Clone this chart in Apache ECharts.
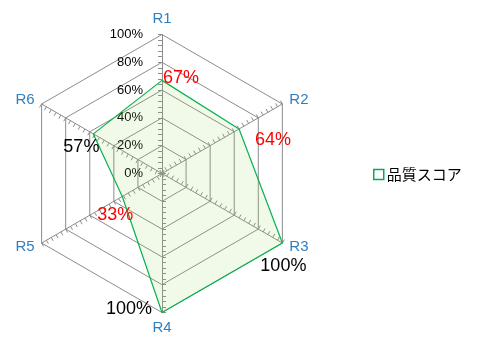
<!DOCTYPE html>
<html>
<head>
<meta charset="utf-8">
<script src="https://cdn.jsdelivr.net/npm/echarts@6/dist/echarts.min.js"></script>
<style>
  html, body { margin: 0; padding: 0; background: #fff; }
  #chart { width: 477px; height: 338px; }
</style>
</head>
<body>
<div id="chart"></div>
<script>
// データ
const indicatorNames = ['R1', 'R2', 'R3', 'R4', 'R5', 'R6'];
const scores = [67, 64, 100, 100, 33, 57];
const seriesName = '品質スコア';
const scoreMax = 100;

// 各頂点ラベルの色・位置
const labelColors = ['#ff0000', '#ff0000', '#000000', '#000000', '#ff0000', '#000000'];
const labelPlace = [
  { position: 'right', distance: 1, offset: [0, -2] },
  { position: 'right', distance: 16, offset: [0, 11] },
  { position: 'bottom', distance: 14, offset: [1, 0] },
  { position: 'left', distance: 10, offset: [0, -3] },
  { position: 'bottom', distance: 10, offset: [-7, 0] },
  { position: 'left', distance: -6, offset: [0, 13] }
];

const gridColor = '#8c8c8c';

// ECharts のレーダーは反時計回りなので、時計回りになるよう並べ替え
const order = [0, 5, 4, 3, 2, 1];
const orderedScores = order.map(function (k) { return scores[k]; });

const chart = echarts.init(document.getElementById('chart'), null, { renderer: 'canvas' });

const indicators = order.map(function (k, i) {
  const ind = {
    name: indicatorNames[k],
    max: scoreMax,
    min: 0,
    minorTick: { show: true, splitNumber: 5, length: 4, lineStyle: { color: gridColor } }
  };
  if (i === 0) {
    ind.axisLabel = { show: true };
  }
  return ind;
});

// 頂点ごとのラベル用シリーズ
const labelSeries = order.map(function (k, i) {
  return {
    type: 'radar',
    silent: true,
    symbol: 'circle',
    symbolSize: 0,
    lineStyle: { width: 0, opacity: 0 },
    itemStyle: { color: 'transparent' },
    label: {
      show: true,
      position: labelPlace[k].position,
      distance: labelPlace[k].distance,
      offset: labelPlace[k].offset,
      color: labelColors[k],
      fontSize: 18,
      fontFamily: 'Liberation Sans',
      formatter: function (p) {
        return p.dimensionIndex === i ? p.value + '%' : '';
      }
    },
    data: [{ value: orderedScores }]
  };
});

const option = {
  animation: false,
  backgroundColor: '#ffffff',
  legend: {
    data: [seriesName],
    orient: 'vertical',
    left: 368,
    top: 162,
    icon: 'rect',
    itemWidth: 10,
    itemHeight: 10,
    itemGap: 4,
    itemStyle: { color: '#ffffff', borderColor: '#00b050', borderWidth: 1.5 },
    textStyle: { fontSize: 15, color: '#000', fontFamily: 'Noto Sans CJK JP', padding: [0, 0, 0, -2] }
  },
  radar: {
    center: [162, 173.5],
    radius: 139,
    shape: 'polygon',
    startAngle: 90,
    splitNumber: 5,
    indicator: indicators,
    axisName: {
      color: '#2f7fc1',
      fontSize: 15,
      fontFamily: 'Liberation Sans'
    },
    nameGap: 8,
    axisLine: { lineStyle: { color: gridColor, width: 1 } },
    axisTick: { show: true, length: 4, lineStyle: { color: gridColor } },
    axisLabel: {
      show: false,
      formatter: '{value}%',
      color: '#000',
      fontSize: 13,
      fontFamily: 'Liberation Sans',
      margin: 19
    },
    splitLine: { lineStyle: { color: gridColor, width: 1 } },
    splitArea: { show: false }
  },
  series: [{
    type: 'radar',
    name: seriesName,
    symbol: 'none',
    lineStyle: { color: '#00b050', width: 1.2 },
    itemStyle: { color: '#00b050' },
    areaStyle: { color: 'rgba(146, 208, 80, 0.18)' },
    data: [{ name: seriesName, value: orderedScores }]
  }].concat(labelSeries)
};

chart.setOption(option);
</script>
</body>
</html>
